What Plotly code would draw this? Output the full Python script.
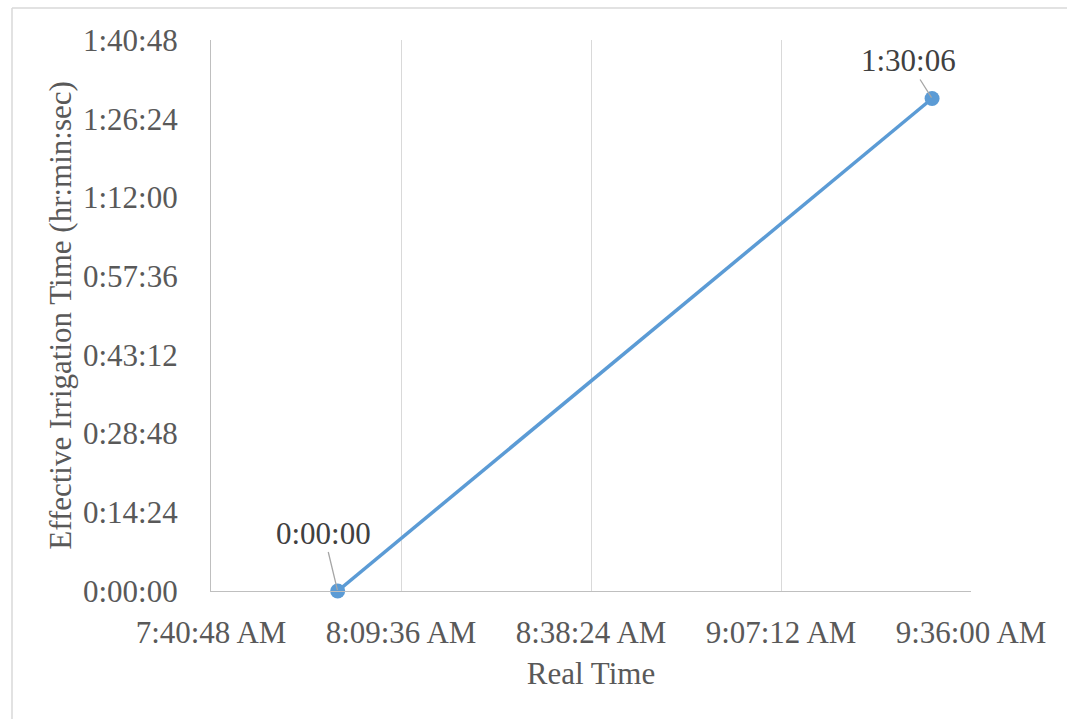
import plotly.graph_objects as go

# Real clock time of each reading and the effective irrigation time reached
real_time = ["2000-01-01 08:00:00", "2000-01-01 09:30:06"]
effective_time = ["2000-01-01 00:00:00", "2000-01-01 01:30:06"]
point_labels = ["0:00:00", "1:30:06"]

x_range = ["2000-01-01 07:40:48", "2000-01-01 09:36:00"]
y_range = ["2000-01-01 00:00:00", "2000-01-01 01:40:48"]

FONT = "'Liberation Serif', 'Times New Roman', serif"
BLUE = "#5b9bd5"

fig = go.Figure()
fig.add_trace(go.Scatter(
    x=real_time, y=effective_time, mode="lines+markers",
    line=dict(color=BLUE, width=3.5),
    marker=dict(color=BLUE, size=15),
    cliponaxis=False, showlegend=False, hoverinfo="skip",
))

# Data labels with short leader lines
offsets = [(-14, -58), (-24, -38)]
for xv, yv, txt, (ax, ay) in zip(real_time, effective_time, point_labels, offsets):
    fig.add_annotation(
        x=xv, y=yv, text=txt, showarrow=True, arrowhead=0,
        arrowcolor="#a6a6a6", arrowwidth=1.3, ax=ax, ay=ay,
        font=dict(family=FONT, size=31, color="#404040"),
        standoff=1,
    )

# Chart frame
fig.add_shape(type="line", xref="paper", yref="paper", x0=-199 / 760, x1=-199 / 760,
              y0=-2, y1=(591 - 8) / 551, line=dict(color="#d9d9d9", width=1.5))
fig.add_shape(type="line", xref="paper", yref="paper", x0=-199 / 760, x1=2,
              y0=(591 - 8) / 551, y1=(591 - 8) / 551, line=dict(color="#d9d9d9", width=1.5))

fig.update_layout(
    width=1067, height=719,
    margin=dict(l=211, r=96, t=40, b=128),
    paper_bgcolor="white", plot_bgcolor="white",
    font=dict(family=FONT, size=31, color="#595959"),
    xaxis=dict(
        type="date", range=x_range, tick0=x_range[0], dtick=1728000,
        tickformat="%-I:%M:%S %p", showgrid=True, gridcolor="#d9d9d9", gridwidth=1.3,
        showline=True, linecolor="#bfbfbf", linewidth=1.3, zeroline=False,
        ticks="", ticklabelstandoff=14,
        title=dict(text="Real Time", standoff=12,
                   font=dict(family=FONT, size=31, color="#595959")),
    ),
    yaxis=dict(
        type="date", range=y_range, tick0=y_range[0], dtick=864000,
        tickformat="%-H:%M:%S", showgrid=False,
        showline=True, linecolor="#bfbfbf", linewidth=1.3, zeroline=False,
        ticks="", ticklabelstandoff=26,
        title=dict(text="Effective Irrigation Time (hr:min:sec)", standoff=2,
                   font=dict(family=FONT, size=31, color="#595959")),
    ),
)

fig.write_html("out.html")
